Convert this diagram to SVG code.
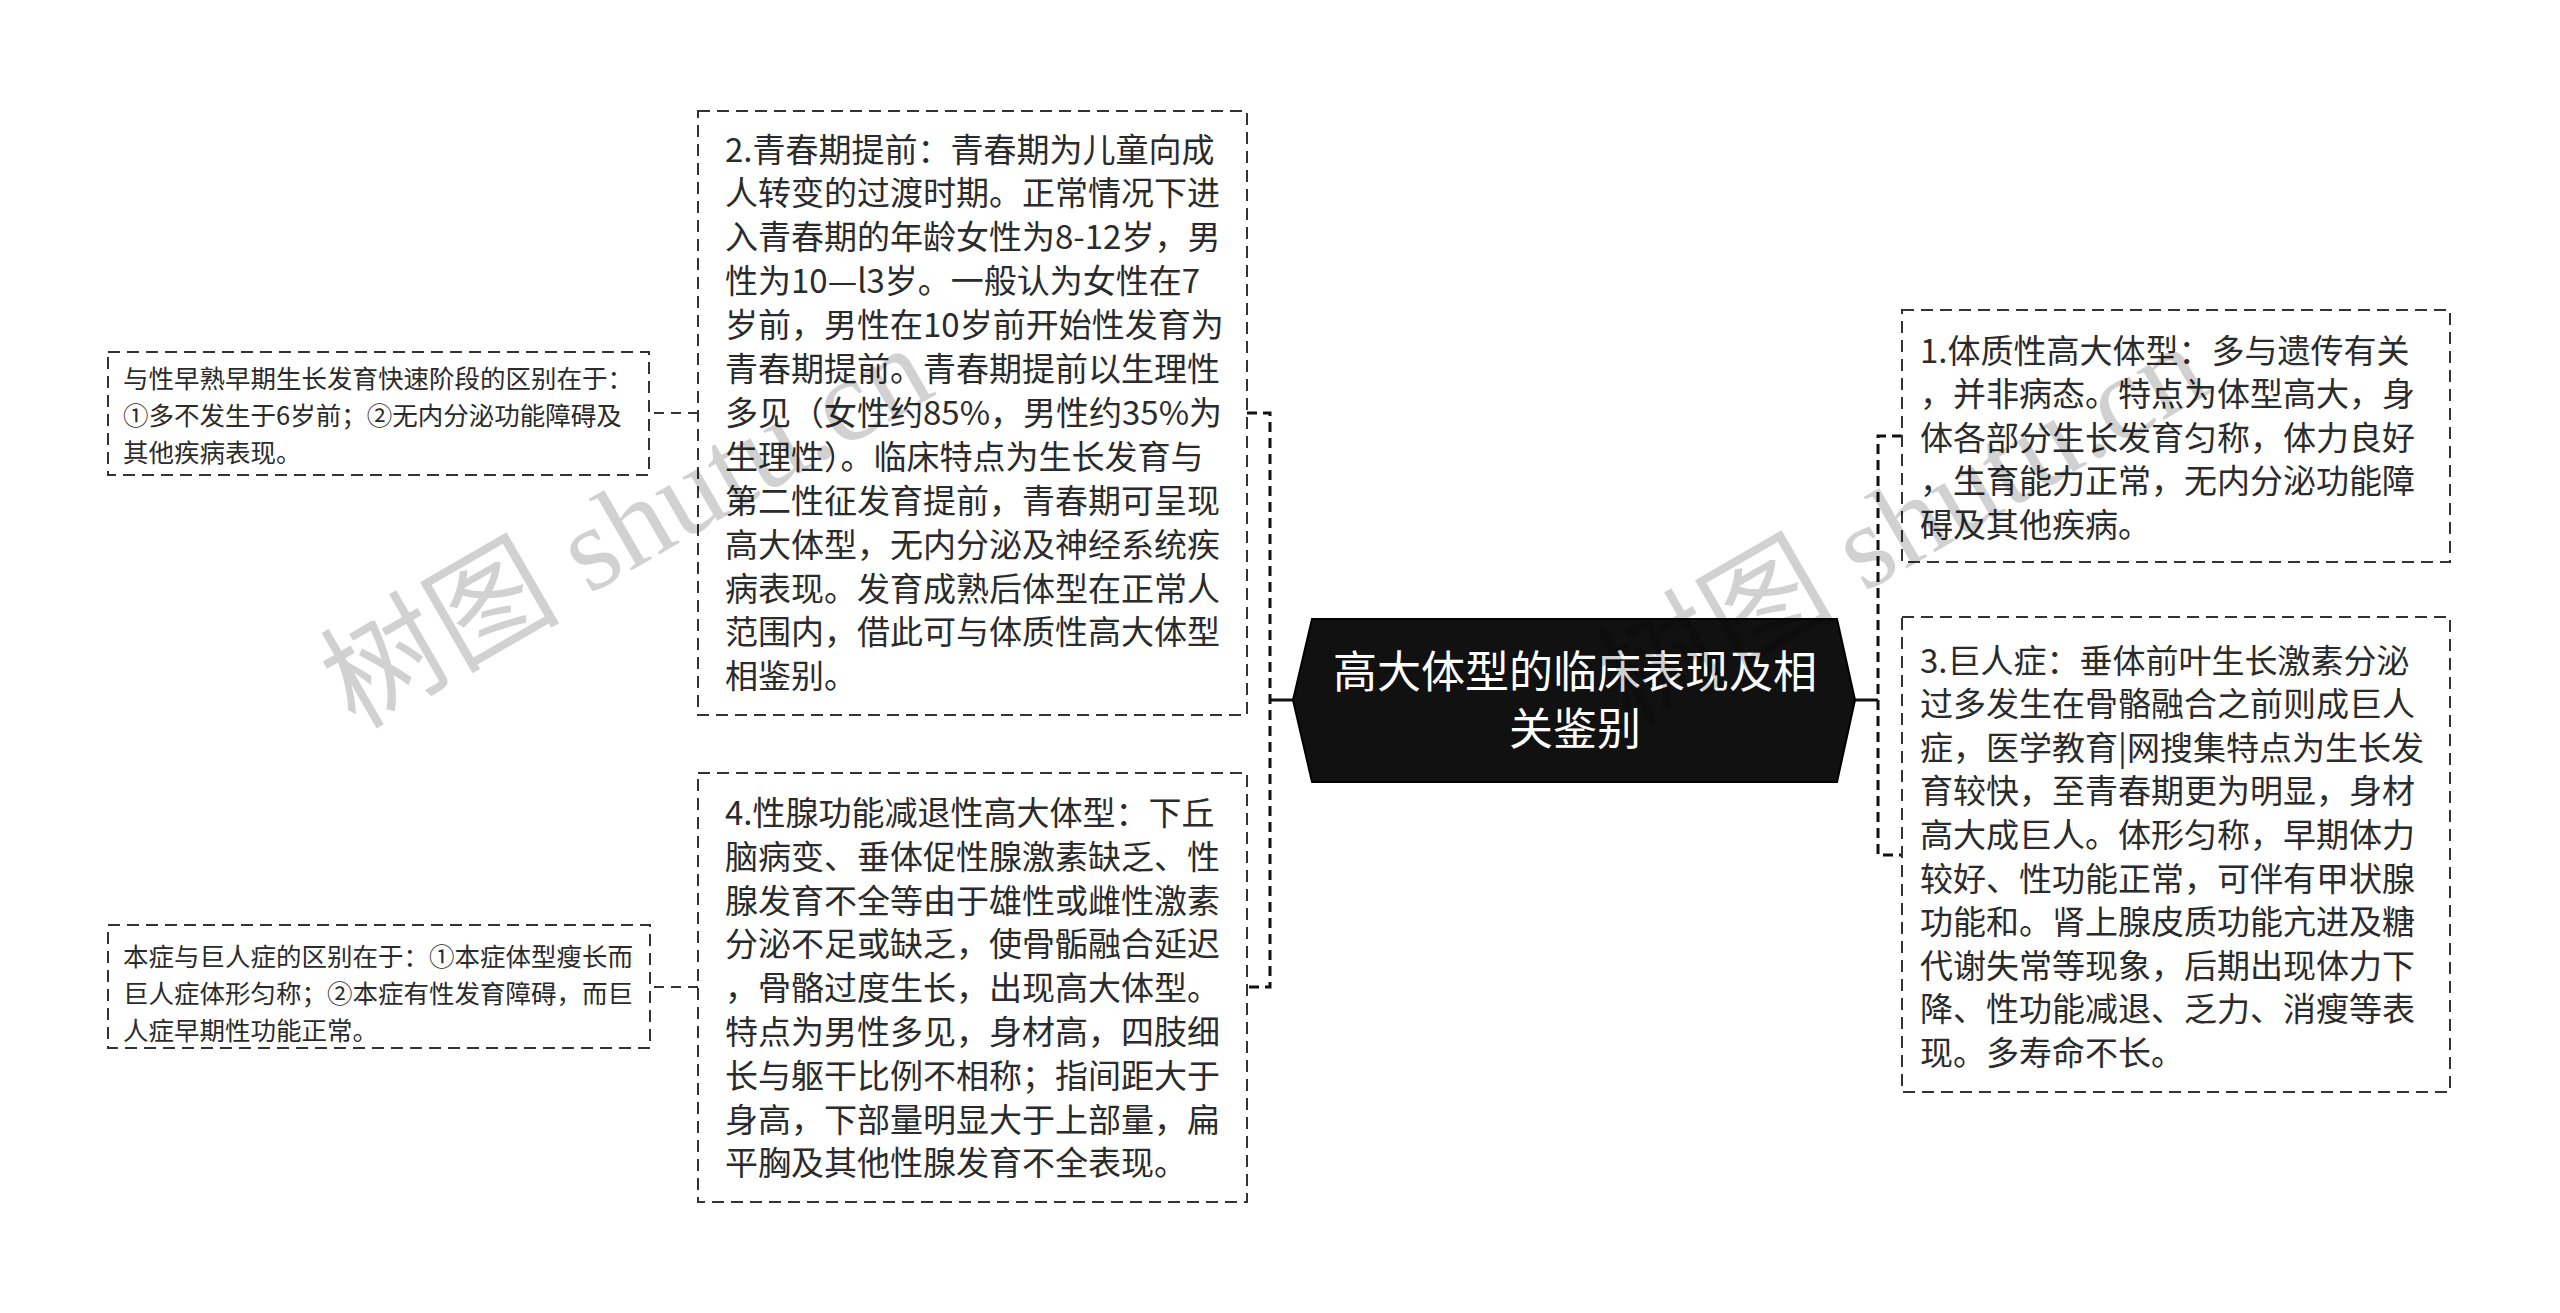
<svg xmlns="http://www.w3.org/2000/svg" width="2560" height="1313" viewBox="0 0 2560 1313">
<style>
.box{fill:none;stroke:#333;stroke-width:2;stroke-dasharray:12 7}
.t{font-family:"Noto Sans CJK SC","Noto Sans",sans-serif;font-size:33px;fill:#2b2b2b}
.s{font-family:"Noto Sans CJK SC","Noto Sans",sans-serif;font-size:25.5px;fill:#2b2b2b}
.root{font-family:"Noto Sans CJK SC","Noto Sans",sans-serif;font-size:44px;fill:#fff;text-anchor:middle}
.spine{fill:none;stroke:#111;stroke-width:3;stroke-dasharray:10 6}
.solid{fill:none;stroke:#111;stroke-width:3}
.leaf{fill:none;stroke:#333;stroke-width:2;stroke-dasharray:10 7}
.wm{font-family:"Liberation Serif","Noto Sans CJK SC",serif;font-size:120px;fill:#000;fill-opacity:0.18}
</style>
<rect width="2560" height="1313" fill="#fff"/>
<g id="connectors">
<path class="solid" d="M1293,700 H1270"/>
<path class="spine" d="M1247,413 H1270 V987 H1247"/>
<path class="solid" d="M1855,700 H1878"/>
<path class="spine" d="M1902,436 H1878 V855 H1902"/>
<path class="leaf" d="M698,413 H649"/>
<path class="leaf" d="M698,987 H650"/>
</g>
<g id="root">
<polygon points="1312,619 1837,619 1855,700 1837,782 1312,782 1293,700" fill="#111" stroke="#000" stroke-width="2"/>
<text class="root"><tspan x="1575" y="688">高大体型的临床表现及相</tspan><tspan x="1575" y="745">关鉴别</tspan></text>
</g>
<g id="node1">
<rect class="box" x="1902" y="310" width="548" height="252"/>
<text class="t"><tspan x="1920" y="362.5">1.体质性高大体型：多与遗传有关</tspan><tspan x="1920" dy="43.6">，并非病态。特点为体型高大，身</tspan><tspan x="1920" dy="43.6">体各部分生长发育匀称，体力良好</tspan><tspan x="1920" dy="43.6">，生育能力正常，无内分泌功能障</tspan><tspan x="1920" dy="43.6">碍及其他疾病。</tspan></text>
</g>
<g id="node3">
<rect class="box" x="1902" y="617" width="548" height="475"/>
<text class="t"><tspan x="1920" y="672.5">3.巨人症：垂体前叶生长激素分泌</tspan><tspan x="1920" dy="43.6">过多发生在骨骼融合之前则成巨人</tspan><tspan x="1920" dy="43.6">症，医学教育|网搜集特点为生长发</tspan><tspan x="1920" dy="43.6">育较快，至青春期更为明显，身材</tspan><tspan x="1920" dy="43.6">高大成巨人。体形匀称，早期体力</tspan><tspan x="1920" dy="43.6">较好、性功能正常，可伴有甲状腺</tspan><tspan x="1920" dy="43.6">功能和。肾上腺皮质功能亢进及糖</tspan><tspan x="1920" dy="43.6">代谢失常等现象，后期出现体力下</tspan><tspan x="1920" dy="43.6">降、性功能减退、乏力、消瘦等表</tspan><tspan x="1920" dy="43.6">现。多寿命不长。</tspan></text>
</g>
<g id="node2">
<rect class="box" x="698" y="111" width="549" height="604"/>
<text class="t"><tspan x="725" y="161.5">2.青春期提前：青春期为儿童向成</tspan><tspan x="725" dy="43.9">人转变的过渡时期。正常情况下进</tspan><tspan x="725" dy="43.9">入青春期的年龄女性为8-12岁，男</tspan><tspan x="725" dy="43.9">性为10—l3岁。一般认为女性在7</tspan><tspan x="725" dy="43.9">岁前，男性在10岁前开始性发育为</tspan><tspan x="725" dy="43.9">青春期提前。青春期提前以生理性</tspan><tspan x="725" dy="43.9">多见（女性约85%，男性约35%为</tspan><tspan x="725" dy="43.9">生理性）。临床特点为生长发育与</tspan><tspan x="725" dy="43.9">第二性征发育提前，青春期可呈现</tspan><tspan x="725" dy="43.9">高大体型，无内分泌及神经系统疾</tspan><tspan x="725" dy="43.9">病表现。发育成熟后体型在正常人</tspan><tspan x="725" dy="43.9">范围内，借此可与体质性高大体型</tspan><tspan x="725" dy="43.9">相鉴别。</tspan></text>
</g>
<g id="node4">
<rect class="box" x="698" y="773" width="549" height="429"/>
<text class="t"><tspan x="725" y="825">4.性腺功能减退性高大体型：下丘</tspan><tspan x="725" dy="43.8">脑病变、垂体促性腺激素缺乏、性</tspan><tspan x="725" dy="43.8">腺发育不全等由于雄性或雌性激素</tspan><tspan x="725" dy="43.8">分泌不足或缺乏，使骨骺融合延迟</tspan><tspan x="725" dy="43.8">，骨骼过度生长，出现高大体型。</tspan><tspan x="725" dy="43.8">特点为男性多见，身材高，四肢细</tspan><tspan x="725" dy="43.8">长与躯干比例不相称；指间距大于</tspan><tspan x="725" dy="43.8">身高，下部量明显大于上部量，扁</tspan><tspan x="725" dy="43.8">平胸及其他性腺发育不全表现。</tspan></text>
</g>
<g id="leaf1">
<rect class="box" x="108" y="352" width="541" height="123"/>
<text class="s"><tspan x="123" y="387.5">与性早熟早期生长发育快速阶段的区别在于：</tspan><tspan x="123" dy="37">①多不发生于6岁前；②无内分泌功能障碍及</tspan><tspan x="123" dy="37">其他疾病表现。</tspan></text>
</g>
<g id="leaf2">
<rect class="box" x="108" y="925" width="542" height="123"/>
<text class="s"><tspan x="123" y="965.5">本症与巨人症的区别在于：①本症体型瘦长而</tspan><tspan x="123" dy="37">巨人症体形匀称；②本症有性发育障碍，而巨</tspan><tspan x="123" dy="37">人症早期性功能正常。</tspan></text>
</g>
<g id="watermarks">
<text class="wm" transform="translate(355,730) rotate(-30)">树图 shutu.cn</text>
<text class="wm" transform="translate(1630,728) rotate(-30)">树图 shutu.cn</text>
</g>
</svg>
